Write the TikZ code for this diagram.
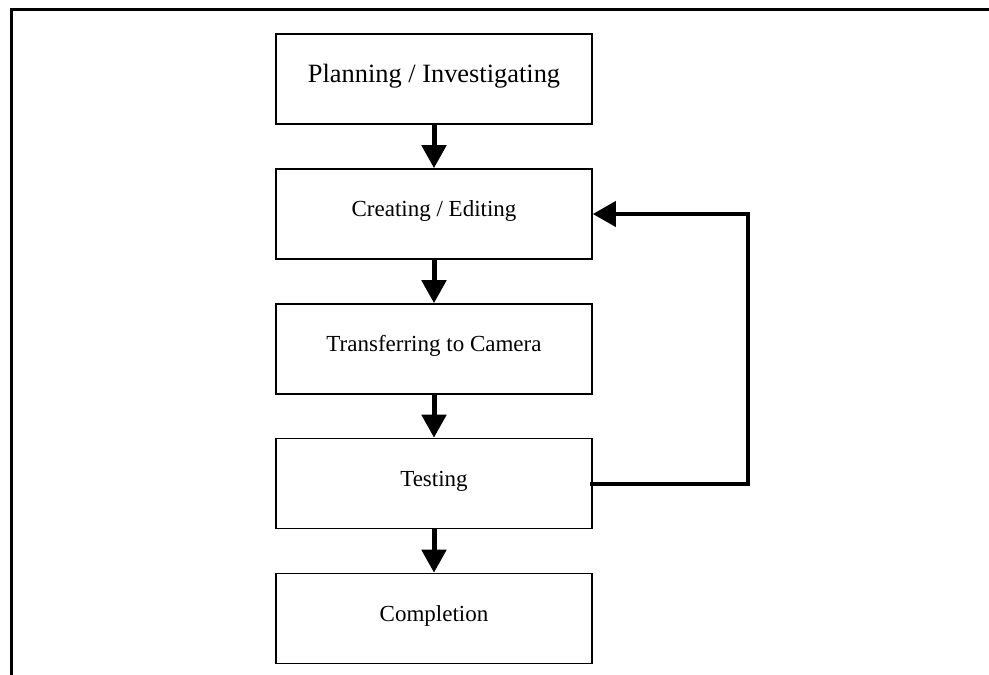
\documentclass[tikz,border=0pt]{standalone}
\usepackage{fontspec}
\setmainfont{Liberation Serif}
\usetikzlibrary{arrows.meta}
\begin{document}
\begin{tikzpicture}[x=1pt,y=-1pt,
  stepbox/.style={draw=black,line width=1.6pt,rectangle,minimum width=316pt,minimum height=90pt,inner sep=0pt,
    text height=13pt,text depth=8pt,font=\fontsize{23}{26}\selectfont},
  down/.style={line width=5pt,-{Triangle[length=23pt,width=24pt]}},
  fb/.style={line width=4pt,line join=miter,-{Triangle[length=23pt,width=25pt]}},
  frame/.style={line width=3.5pt}]
\useasboundingbox (0,0) rectangle (989,675);
\coordinate (ftr) at (989,9.5);
\coordinate (ftl) at (11.5,9.5);
\coordinate (fbl) at (11.5,675);
\draw[frame] (ftr) -- (ftl) -- (fbl);
\node[stepbox,text height=15pt,text depth=8pt,font=\fontsize{26.4}{30}\selectfont] (plan) at (434,79) {Planning / Investigating};
\node[stepbox] (create) at (434,214) {Creating / Editing};
\node[stepbox] (transfer) at (434,349) {Transferring to Camera};
\node[stepbox] (test) at (434,483.5) {Testing};
\node[stepbox] (done) at (434,618.5) {Completion};
\draw[down] (plan.south) -- (create.north);
\draw[down] (create.south) -- (transfer.north);
\draw[down] (transfer.south) -- (test.north);
\draw[down] (test.south) -- (done.north);
\coordinate (fb1) at (748,483.5);
\coordinate (fb2) at (748,214);
\draw[fb] ([xshift=-3pt]test.east) -- (fb1) -- (fb2) -- (create.east);
\end{tikzpicture}
\end{document}
